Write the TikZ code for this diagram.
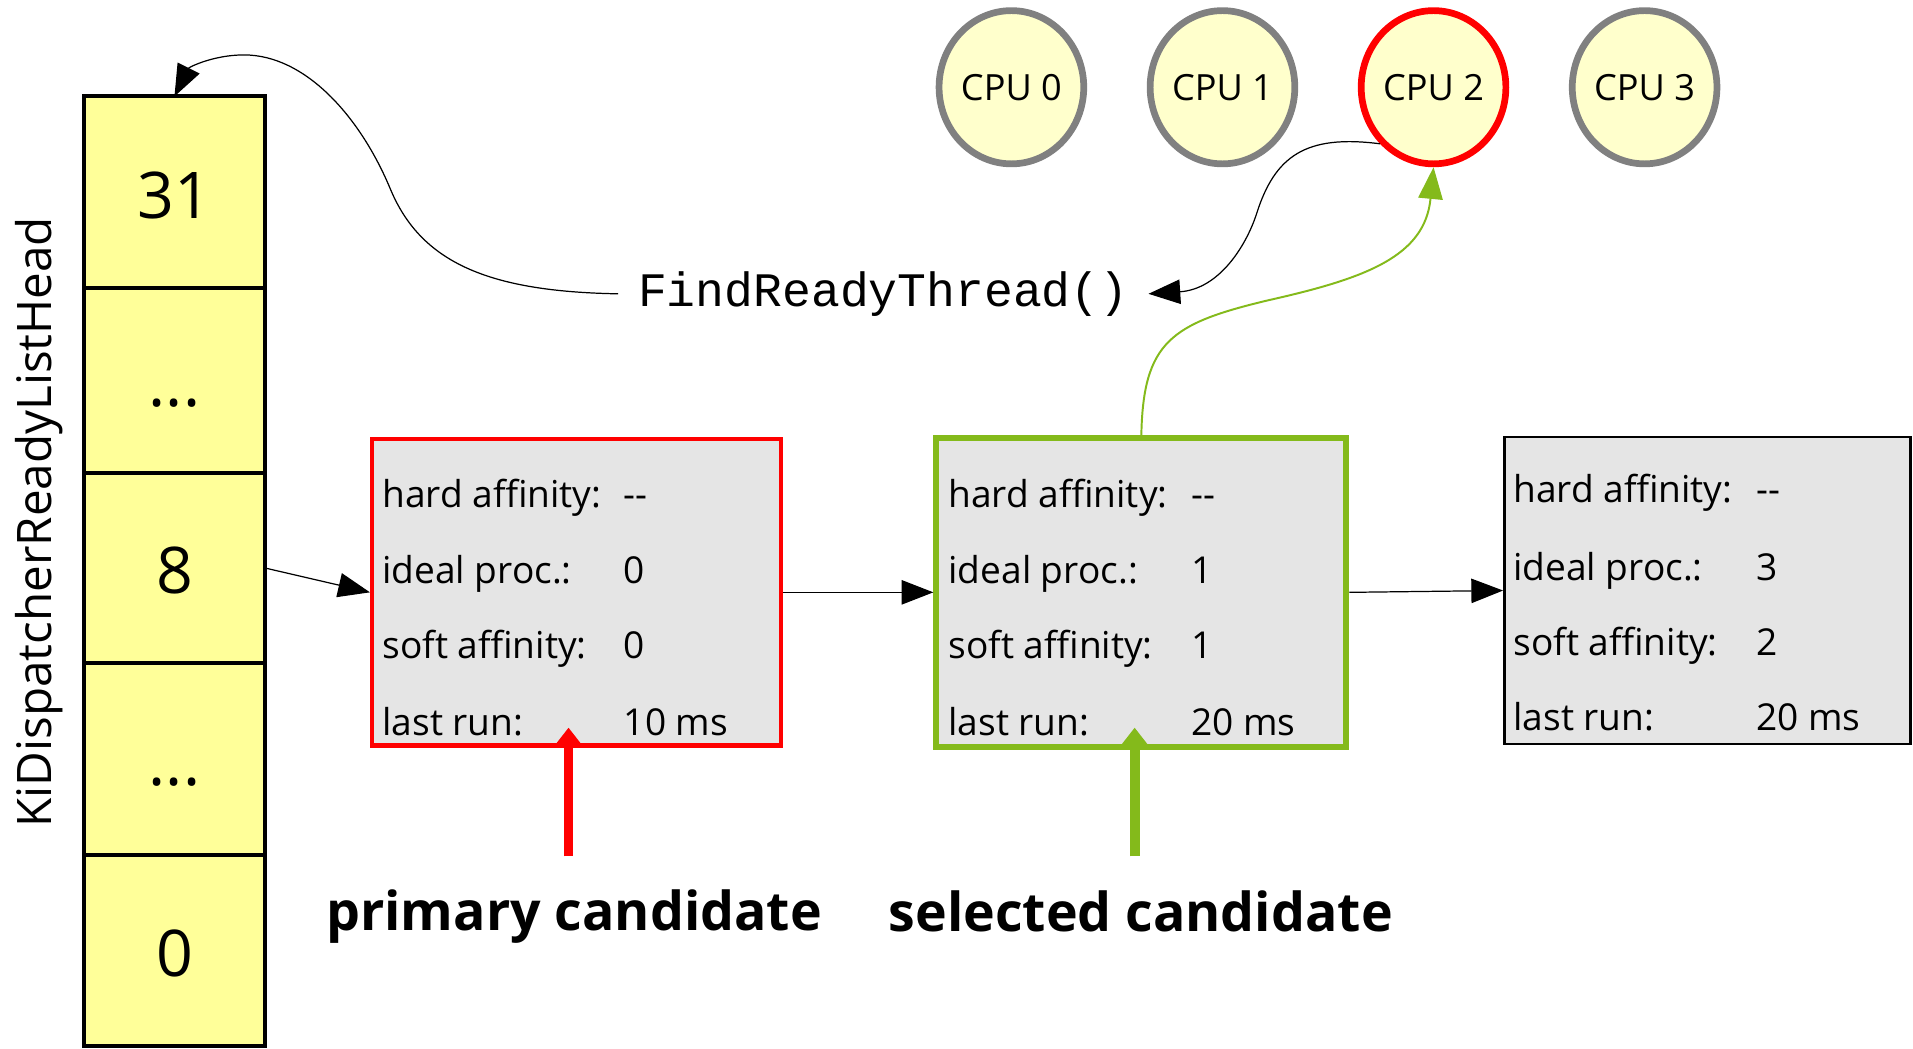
\documentclass[tikz,border=0pt]{standalone}
\usepackage{fontspec}
\setmainfont{Open Sans}
\newfontfamily\codefont{Liberation Mono}
\usetikzlibrary{arrows.meta,shapes.geometric}

\definecolor{cellyellow}{HTML}{FFFF99}
\definecolor{cpuyellow}{HTML}{FFFFCC}
\definecolor{cpugray}{HTML}{808080}
\definecolor{threadgray}{HTML}{E5E5E5}
\definecolor{pickgreen}{HTML}{84BA1B}
\definecolor{pickred}{HTML}{FF0000}

\newcommand\nodash{\mbox{-}\mbox{-}}

\begin{document}
\begin{tikzpicture}[x=0.5pt,y=-0.5pt,
  cell/.style={rectangle, draw=black, fill=cellyellow, line width=1.65pt,
    minimum width=74pt, inner sep=0pt, outer sep=0pt,
    text height=21.35pt, text depth=0pt,
    font=\fontsize{26.4}{30}\selectfont},
  cpu/.style={ellipse, draw=cpugray, fill=cpuyellow, line width=2.75pt,
    minimum width=59.3pt, minimum height=62.8pt, inner sep=0pt,
    font=\fontsize{14.8}{18}\selectfont},
  thread/.style={rectangle, fill=threadgray, inner sep=0pt},
  field/.style={anchor=base west, inner sep=0pt, font=\fontsize{15.2}{18}\selectfont},
  link/.style={line width=0.5pt, -{Triangle[length=13pt,width=10pt]}},
  marker/.style={line width=4pt, -{Triangle[length=8pt,width=12.5pt,line width=0pt]}},
  caption/.style={anchor=base, inner sep=0pt, font=\bfseries\fontsize{22}{26}\selectfont}
]
\useasboundingbox[fill=white] (0,0) rectangle (1568,859);

% ready list: one slot per priority
\node[cell, minimum height=78.5pt]  (c31) at (143,157.5)  {31};
\node[cell, minimum height=75.75pt] (cA)  at (143,311.75) {...};
\node[cell, minimum height=78pt]    (c8)  at (143,465.5)  {8};
\node[cell, minimum height=78.75pt] (cB)  at (143,622.25) {...};
\node[cell, minimum height=78pt]    (c0)  at (143,779)    {0};
\node[rotate=90, anchor=base, inner sep=0pt, font=\fontsize{19.5}{22}\selectfont]
  (qname) at (42.4,428) {KiDispatcherReadyListHead};

% processors
\node[cpu] (cpu0) at (829,71.5)  {CPU 0};
\node[cpu] (cpu1) at (1002,71.5) {CPU 1};
\node[cpu, draw=pickred] (cpu2) at (1175,71.5) {CPU 2};
\node[cpu] (cpu3) at (1348,71.5) {CPU 3};

% scheduler routine
\node[anchor=base, inner xsep=8pt, inner ysep=0pt, font=\codefont\fontsize{19.7}{22}\selectfont]
  (frt) at (724,251) {FindReadyThread()};

% threads queued at priority 8
\node[thread, draw=pickred, line width=1.75pt, minimum width=167.5pt, minimum height=125.5pt]
  (red) at (472.5,485.5) {};
\node[thread, draw=pickgreen, line width=2.5pt, minimum width=168pt, minimum height=126.5pt]
  (green) at (935.5,485.5) {};
\node[thread, draw=black, line width=1pt, minimum width=166.5pt, minimum height=126pt]
  (black) at (1399.5,484) {};

\node[field] (ra1) at (313,416) {hard affinity:}; \node[field] (rb1) at (511,416) {\nodash};
\node[field] (ra2) at (313,478) {ideal proc.:};   \node[field] (rb2) at (511,478) {0};
\node[field] (ra3) at (313,540) {soft affinity:}; \node[field] (rb3) at (511,540) {0};
\node[field] (ra4) at (313,603) {last run:};      \node[field] (rb4) at (511,603) {10 ms};

\node[field] (ga1) at (777,416) {hard affinity:}; \node[field] (gb1) at (976,416) {\nodash};
\node[field] (ga2) at (777,478) {ideal proc.:};   \node[field] (gb2) at (976,478) {1};
\node[field] (ga3) at (777,540) {soft affinity:}; \node[field] (gb3) at (976,540) {1};
\node[field] (ga4) at (777,603) {last run:};      \node[field] (gb4) at (976,603) {20 ms};

\node[field] (ka1) at (1240,412)   {hard affinity:}; \node[field] (kb1) at (1439,412)   {\nodash};
\node[field] (ka2) at (1240,475.5) {ideal proc.:};   \node[field] (kb2) at (1439,475.5) {3};
\node[field] (ka3) at (1240,537)   {soft affinity:}; \node[field] (kb3) at (1439,537)   {2};
\node[field] (ka4) at (1240,599)   {last run:};      \node[field] (kb4) at (1439,599)   {20 ms};

% list links
\draw[link] (c8.east) -- (red.west);
\draw[link] (red.east) -- (green.west);
\draw[link] (green.east) -- (black.west);

% lookup flow
\draw[link] (cpu2.south west) .. controls (1070,110) and (1045,128) .. (1030,175)
  .. controls (1022,200) and (1000,237) .. (frt.east);
\draw[link] (frt.west) .. controls (400,239) and (345,215) .. (320,155)
  .. controls (295,95) and (250,45) .. (200,45)
  .. controls (175,45) and (155,55) .. (c31.north);
\draw[link, pickgreen, line width=0.8pt] (green.north) .. controls (937,280) and (960,265) .. (1040,246)
  .. controls (1120,228) and (1168,210) .. (cpu2.south);

% candidate markers
\node[caption] (primary)  at (470.6,762.5) {primary candidate};
\node[caption] (selected) at (935,763.5)   {selected candidate};
\coordinate (redfoot)   at (466,702);
\coordinate (redtip)    at (466,596.5);
\coordinate (greenfoot) at (930,702);
\coordinate (greentip)  at (930,596.5);
\draw[marker, pickred]   (redfoot) -- (redtip);
\draw[marker, pickgreen] (greenfoot) -- (greentip);
\end{tikzpicture}
\end{document}
